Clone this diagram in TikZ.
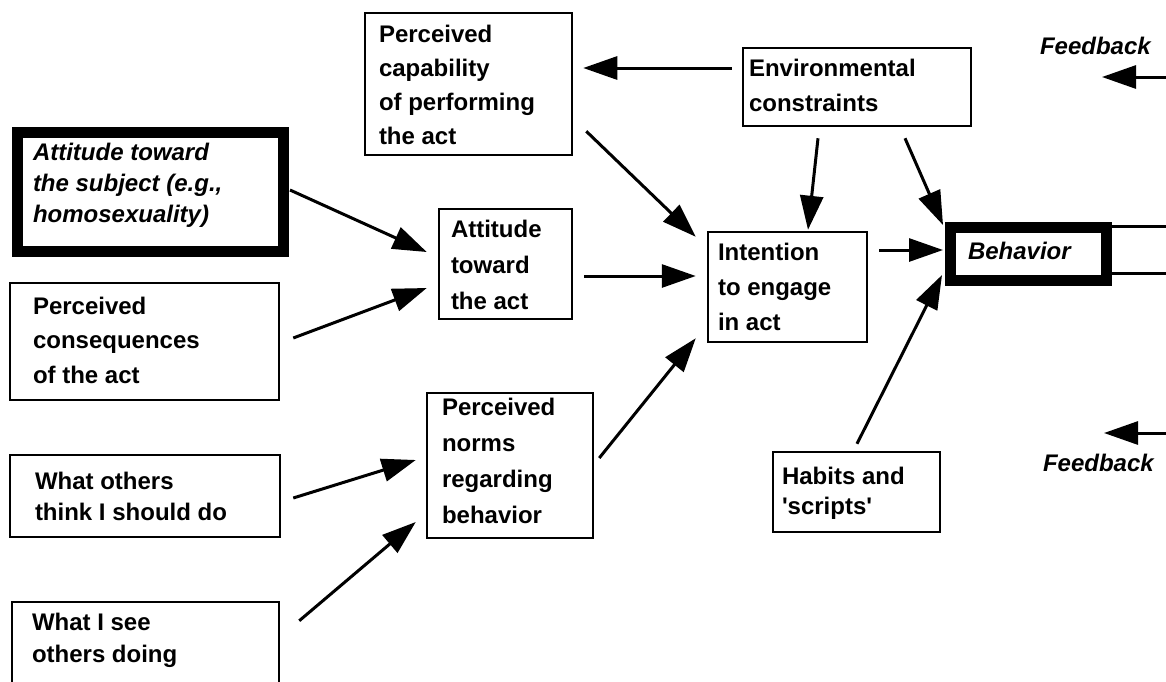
\documentclass[tikz,border=0pt]{standalone}
\usepackage{fontspec}
\setmainfont{Liberation Sans}
\usetikzlibrary{arrows.meta}
\begin{document}
\begin{tikzpicture}[x=1pt,y=-1pt,
  box/.style={draw, line width=2.5pt, inner sep=0pt, rectangle},
  thickbox/.style={draw, line width=11pt, inner sep=0pt, rectangle},
  txt/.style={anchor=north west, inner sep=0pt, outer sep=0pt, align=left, font=\fontsize{24}{#1}\selectfont\bfseries},
  txt/.default=35,
  ittxt/.style={anchor=north west, inner sep=0pt, outer sep=0pt, align=left, font=\fontsize{24}{#1}\selectfont\bfseries\itshape},
  ittxt/.default=33,
  arr/.style={line width=3pt, -{Triangle[length=34pt,width=23pt]}},
  ln/.style={line width=3pt}]
\useasboundingbox (0,0) rectangle (1166,681);
\clip (0,0) rectangle (1166,681);
\fill[white] (0,0) rectangle (1166,681);

% boxes
\node[box, minimum width=207pt, minimum height=142pt] (cap) at (468.5,84) {};
\node[box, minimum width=228pt, minimum height=78pt] (env) at (857,87) {};
\node[thickbox, minimum width=266pt, minimum height=119pt] (subj) at (150.5,192) {};
\node[box, minimum width=269pt, minimum height=117pt] (cons) at (144.5,341.5) {};
\node[box, minimum width=270pt, minimum height=82pt] (others) at (145,496) {};
\node[box, minimum width=267pt, minimum height=110pt] (see) at (145.5,657) {};
\node[box, minimum width=133pt, minimum height=110pt] (act) at (505.5,264) {};
\node[box, minimum width=166pt, minimum height=145pt] (norms) at (510,465.5) {};
\node[box, minimum width=159pt, minimum height=110pt] (intent) at (787.5,287) {};
\node[box, minimum width=167pt, minimum height=80pt] (habits) at (856.5,492) {};
\node[thickbox, minimum width=156pt, minimum height=53pt] (behav) at (1028.5,254) {};

% texts
\node[txt=34] (capT) at (379,25) {Perceived\\capability\\of performing\\the act};
\node[txt=35] (envT) at (749,59) {Environmental\\constraints};
\node[ittxt=31] (subjT) at (33,143) {Attitude toward\\the subject (e.g.,\\homosexuality)};
\node[txt=34.5] (consT) at (33,297) {Perceived\\consequences\\of the act};
\node[txt=31] (othersT) at (35,472) {What others\\think I should do};
\node[txt=32] (seeT) at (32,613) {What I see\\others doing};
\node[txt=36] (actT) at (451,220) {Attitude\\toward\\the act};
\node[txt=36] (normsT) at (442,398) {Perceived\\norms\\regarding\\behavior};
\node[txt=35] (intentT) at (718,243) {Intention\\to engage\\in act};
\node[txt=30] (habitsT) at (782,467) {Habits and\\\textquotesingle scripts\textquotesingle};
\node[ittxt] (behavT) at (968,242) {Behavior};
\node[ittxt] (fbT) at (1040,37) {Feedback};
\node[ittxt] (fbB) at (1043,454) {Feedback};

% connectors
\draw[arr] ([shift={(-10,-19)}]env.west) -- ([shift={(10,-16)}]cap.east);
\draw[arr] ([shift={(13,-25)}]cap.south east) -- ([shift={(-11,6)}]intent.north west);
\draw[arr] ([shift={(-39,11)}]env.south) -- ([shift={(20.5,-1)}]intent.north);
\draw[arr] ([shift={(48,11)}]env.south) -- ([shift={(-2,3)}]behav.north west);
\draw[arr] ([shift={(11,-37)}]intent.east) -- ([shift={(-2,-4)}]behav.west);
\draw[arr] ([shift={(0.5,-7)}]habits.north) -- ([shift={(-3,-11)}]behav.south west);
\draw[arr] ([shift={(11,12)}]act.east) -- ([shift={(-11,-11)}]intent.west);
\draw[arr] ([shift={(5,-7.5)}]norms.east) -- ([shift={(-11,-5)}]intent.south west);
\draw[arr] ([shift={(1,-2)}]subj.east) -- ([shift={(-11,-12)}]act.west);
\draw[arr] ([shift={(13,-3.5)}]cons.east) -- ([shift={(-11,24)}]act.west);
\draw[arr] ([shift={(12,2)}]others.east) -- ([shift={(-10,-5.5)}]norms.west);
\draw[arr] ([shift={(19,20)}]see.north east) -- ([shift={(-10,56.5)}]norms.west);

% feedback and behaviour outputs
\coordinate (fb1s) at (1172,77);
\coordinate (fb1e) at (1102,77);
\coordinate (fb2s) at (1172,433);
\coordinate (fb2e) at (1104,433);
\draw[arr] (fb1s) -- (fb1e);
\draw[arr] (fb2s) -- (fb2e);
\coordinate (bl1) at (1172,226);
\coordinate (bl2) at (1172,273);
\draw[ln] ([yshift=-4pt]behav.north east) -- (bl1);
\draw[ln] ([yshift=13pt]behav.south east) -- (bl2);
\end{tikzpicture}
\end{document}
